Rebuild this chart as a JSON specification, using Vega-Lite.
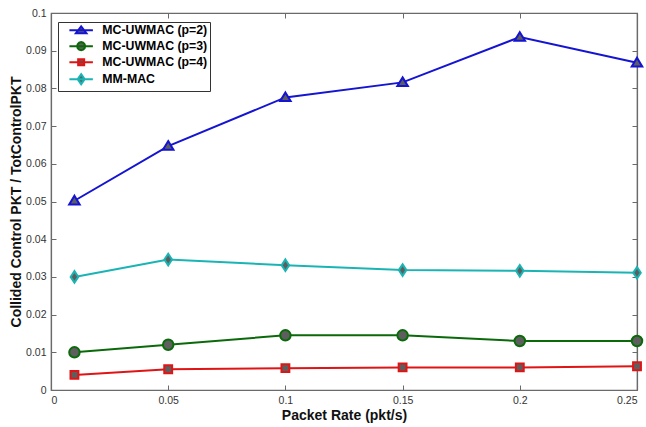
{
  "$schema": "https://vega.github.io/schema/vega-lite/v6.json",
  "autosize": "none",
  "width": 586,
  "height": 377,
  "padding": {"left": 51, "top": 13, "right": 9, "bottom": 37},
  "background": "white",
  "config": {
    "font": "Liberation Sans",
    "view": {"stroke": "#6a6a6a", "strokeWidth": 1.2},
    "axis": {
      "domainColor": "#6a6a6a",
      "domainWidth": 1.2,
      "tickColor": "#6a6a6a",
      "tickSize": -5,
      "labelFont": "Liberation Sans",
      "labelFontSize": 10.5,
      "labelColor": "#333333",
      "titleFont": "Liberation Sans",
      "titleFontSize": 14,
      "titleFontWeight": "bold",
      "titleColor": "#111111",
      "grid": false
    }
  },
  "data": {
    "values": [
      {"rate": 0.01, "value": 0.0502, "series": "MC-UWMAC (p=2)"},
      {"rate": 0.05, "value": 0.0647, "series": "MC-UWMAC (p=2)"},
      {"rate": 0.10, "value": 0.0776, "series": "MC-UWMAC (p=2)"},
      {"rate": 0.15, "value": 0.0816, "series": "MC-UWMAC (p=2)"},
      {"rate": 0.20, "value": 0.0936, "series": "MC-UWMAC (p=2)"},
      {"rate": 0.25, "value": 0.0868, "series": "MC-UWMAC (p=2)"},
      {"rate": 0.01, "value": 0.0100, "series": "MC-UWMAC (p=3)"},
      {"rate": 0.05, "value": 0.0120, "series": "MC-UWMAC (p=3)"},
      {"rate": 0.10, "value": 0.0145, "series": "MC-UWMAC (p=3)"},
      {"rate": 0.15, "value": 0.0145, "series": "MC-UWMAC (p=3)"},
      {"rate": 0.20, "value": 0.0130, "series": "MC-UWMAC (p=3)"},
      {"rate": 0.25, "value": 0.0130, "series": "MC-UWMAC (p=3)"},
      {"rate": 0.01, "value": 0.0040, "series": "MC-UWMAC (p=4)"},
      {"rate": 0.05, "value": 0.0055, "series": "MC-UWMAC (p=4)"},
      {"rate": 0.10, "value": 0.0058, "series": "MC-UWMAC (p=4)"},
      {"rate": 0.15, "value": 0.0060, "series": "MC-UWMAC (p=4)"},
      {"rate": 0.20, "value": 0.0060, "series": "MC-UWMAC (p=4)"},
      {"rate": 0.25, "value": 0.0063, "series": "MC-UWMAC (p=4)"},
      {"rate": 0.01, "value": 0.0300, "series": "MM-MAC"},
      {"rate": 0.05, "value": 0.0346, "series": "MM-MAC"},
      {"rate": 0.10, "value": 0.0331, "series": "MM-MAC"},
      {"rate": 0.15, "value": 0.0318, "series": "MM-MAC"},
      {"rate": 0.20, "value": 0.0316, "series": "MM-MAC"},
      {"rate": 0.25, "value": 0.0311, "series": "MM-MAC"}
    ]
  },
  "resolve": {
    "scale": {"shape": "independent", "stroke": "independent"},
    "axis": {"x": "independent", "y": "independent"}
  },
  "layer": [
    {
      "mark": {"type": "line", "strokeWidth": 2, "clip": false},
      "encoding": {
        "x": {
          "field": "rate", "type": "quantitative",
          "scale": {"domain": [0, 0.25], "nice": false, "zero": false},
          "axis": {
            "title": "Packet Rate (pkt/s)",
            "values": [0, 0.05, 0.1, 0.15, 0.2, 0.25],
            "format": "~g",
            "labelPadding": 10,
            "titlePadding": 3
          }
        },
        "y": {
          "field": "value", "type": "quantitative",
          "scale": {"domain": [0, 0.1], "nice": false, "zero": false},
          "axis": {
            "title": "Collided Control PKT / TotControlPKT",
            "values": [0, 0.01, 0.02, 0.03, 0.04, 0.05, 0.06, 0.07, 0.08, 0.09, 0.1],
            "format": "~g",
            "labelPadding": 10,
            "titlePadding": 2
          }
        },
        "color": {
          "field": "series", "type": "nominal",
          "scale": {
            "domain": ["MC-UWMAC (p=2)", "MC-UWMAC (p=3)", "MC-UWMAC (p=4)", "MM-MAC"],
            "range": ["#1414d2", "#0a6a0a", "#e01414", "#1ab4b4"]
          },
          "legend": null
        }
      }
    },
    {
      "mark": {"type": "point", "filled": true, "strokeWidth": 2, "opacity": 1, "clip": false},
      "encoding": {
        "x": {"field": "rate", "type": "quantitative", "axis": null},
        "y": {"field": "value", "type": "quantitative", "axis": null},
        "fill": {"value": "#5e5e5e"},
        "stroke": {
          "field": "series", "type": "nominal",
          "scale": {
            "domain": ["MC-UWMAC (p=2)", "MC-UWMAC (p=3)", "MC-UWMAC (p=4)", "MM-MAC"],
            "range": ["#1414d2", "#0a6a0a", "#e01414", "#1ab4b4"]
          },
          "legend": null
        },
        "shape": {
          "field": "series", "type": "nominal",
          "scale": {
            "domain": ["MC-UWMAC (p=2)", "MC-UWMAC (p=3)", "MC-UWMAC (p=4)", "MM-MAC"],
            "range": [
              "M0,-0.95L1,0.7L-1,0.7Z",
              "circle",
              "M-0.75,-0.75L0.75,-0.75L0.75,0.75L-0.75,0.75Z",
              "M0,-1.1L0.72,0L0,1.1L-0.72,0Z"
            ]
          },
          "legend": null
        },
        "size": {"value": 110}
      }
    },
    {
      "mark": {"type": "point", "filled": true, "strokeWidth": 2, "opacity": 0},
      "encoding": {
        "x": {"field": "rate", "type": "quantitative", "axis": null},
        "y": {"field": "value", "type": "quantitative", "axis": null},
        "fill": {"value": "#5e5e5e"},
        "size": {"value": 196},
        "stroke": {
          "field": "series", "type": "nominal",
          "scale": {
            "domain": ["MC-UWMAC (p=2)", "MC-UWMAC (p=3)", "MC-UWMAC (p=4)", "MM-MAC"],
            "range": ["#1414d2", "#0a6a0a", "#e01414", "#1ab4b4"]
          },
          "legend": {
            "title": null,
            "orient": "none",
            "legendX": 7,
            "legendY": 9,
            "padding": 2,
            "strokeColor": "#333333",
            "fillColor": "white",
            "labelFont": "Liberation Sans",
            "labelFontSize": 12.3,
            "labelFontWeight": "bold",
            "labelColor": "#000000",
            "labelBaseline": "middle",
            "symbolOffset": 15,
            "labelOffset": 15,
            "rowPadding": 0,
            "symbolStrokeWidth": 2,
            "encode": {"symbols": {"update": {"opacity": {"value": 1}, "fill": {"value": "#5e5e5e"}}}}
          }
        },
        "shape": {
          "field": "series", "type": "nominal",
          "scale": {
            "domain": ["MC-UWMAC (p=2)", "MC-UWMAC (p=3)", "MC-UWMAC (p=4)", "MM-MAC"],
            "range": [
              "M-2.35,0L2.35,0M0,-0.75L1.05,0.6L-1.05,0.6Z",
              "M-2.35,0L2.35,0M0.8,0L0.69,0.4L0.4,0.69L0,0.8L-0.4,0.69L-0.69,0.4L-0.8,0L-0.69,-0.4L-0.4,-0.69L0,-0.8L0.4,-0.69L0.69,-0.4Z",
              "M-2.35,0L2.35,0M-0.6,-0.6L0.6,-0.6L0.6,0.6L-0.6,0.6Z",
              "M-2.35,0L2.35,0M0,-1L0.7,0L0,1L-0.7,0Z"
            ]
          },
          "legend": {"title": null}
        }
      }
    },
    {
      "mark": {"type": "point", "opacity": 0},
      "encoding": {
        "x": {
          "field": "rate", "type": "quantitative",
          "axis": {"orient": "top", "title": null, "labels": false, "values": [0, 0.05, 0.1, 0.15, 0.2, 0.25]}
        },
        "y": {
          "field": "value", "type": "quantitative",
          "axis": {"orient": "right", "title": null, "labels": false, "values": [0, 0.01, 0.02, 0.03, 0.04, 0.05, 0.06, 0.07, 0.08, 0.09, 0.1]}
        }
      }
    }
  ]
}
